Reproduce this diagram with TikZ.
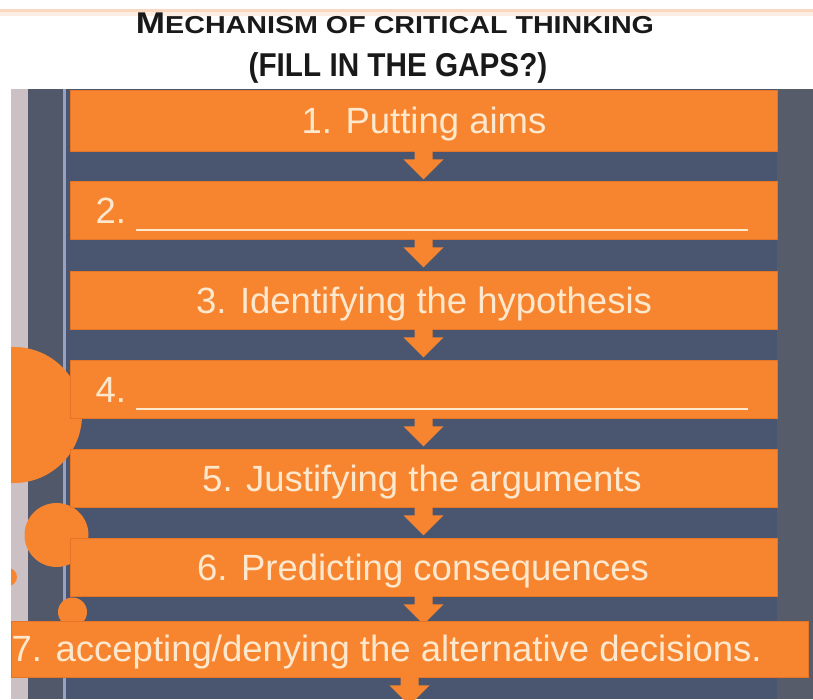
\documentclass[tikz,border=0pt]{standalone}
\usepackage{fontspec}
\setmainfont{Liberation Sans}
\usetikzlibrary{calc}
\definecolor{boxorange}{RGB}{247,133,47}
\definecolor{boxedge}{RGB}{228,116,38}
\definecolor{slate}{RGB}{80,88,106}
\definecolor{slatemid}{RGB}{74,86,112}
\definecolor{slateright}{RGB}{86,92,106}
\definecolor{pinkstrip}{RGB}{203,192,196}
\definecolor{lightline}{RGB}{152,162,192}
\definecolor{creamtext}{RGB}{253,232,206}
\definecolor{titlecol}{RGB}{25,25,25}
\definecolor{peach}{RGB}{248,200,165}
\begin{document}
\begin{tikzpicture}[x=1pt,y=-1pt,
  flowbox/.style={fill=boxorange,draw=boxedge,line width=0.8pt,inner sep=0pt},
  flowtext/.style={text=creamtext,inner sep=0pt,font=\fontsize{36.5}{40}\selectfont},
  titletext/.style={anchor=base,inner sep=0pt,text=titlecol},
  darrow/.pic={\fill[boxorange] (-9,-2) -- (9,-2) -- (9,8) -- (20,8) -- (0,28) -- (-20,8) -- (-9,8) -- cycle;}
]
\useasboundingbox (0,0) rectangle (813,699);
% backgrounds
\fill[white] (0,0) rectangle (813,699);
\fill[peach!70] (0,9) rectangle (813,12);
\fill[peach!30] (0,12) rectangle (813,16);
\fill[slate] (0,89) rectangle (813,699);
\fill[slatemid] (66,89) rectangle (777,699);
\fill[slateright] (777,89) rectangle (813,699);
\fill[pinkstrip] (11,89) rectangle (28,699);
\fill[lightline] (62.5,89) rectangle (66,699);
% circles
\fill[boxorange] (14,415) circle[radius=68];
\fill[boxorange] (56.5,535) circle[radius=32];
\fill[boxorange] (72.5,612) circle[radius=14.5];
\fill[boxorange] (8,577) circle[radius=9];
\fill[white] (0,89) rectangle (11,699);
% boxes
\node[flowbox,minimum width=707,minimum height=61] (b1) at (423.5,120.5) {};
\node[flowbox,minimum width=707,minimum height=58] (b2) at (423.5,210) {};
\node[flowbox,minimum width=707,minimum height=58] (b3) at (423.5,300) {};
\node[flowbox,minimum width=707,minimum height=58] (b4) at (423.5,389) {};
\node[flowbox,minimum width=707,minimum height=58] (b5) at (423.5,478) {};
\node[flowbox,minimum width=707,minimum height=58] (b6) at (423.5,567) {};
% arrows
\pic at (b1.south) {darrow};
\pic at (b2.south) {darrow};
\pic at (b3.south) {darrow};
\pic at (b4.south) {darrow};
\pic at (b5.south) {darrow};
\pic at (b6.south) {darrow};
\node[flowbox,minimum width=797,minimum height=56] (b7) at (409.5,649) {};
\pic at (b7.south) {darrow};
% texts
\node[flowtext,anchor=base] (t1) at (424,133.5) {1. Putting aims};
\node[flowtext,anchor=base west] (t2) at (95.5,223) {2.\ \rule[-8pt]{612pt}{2.5pt}};
\node[flowtext,anchor=base] (t3) at (424,313) {3. Identifying the hypothesis};
\node[flowtext,anchor=base west] (t4) at (95.5,402) {4.\ \rule[-8pt]{612pt}{2.5pt}};
\node[flowtext,anchor=base] (t5) at (422,491) {5. Justifying the arguments};
\node[flowtext,anchor=base] (t6) at (423,580) {6. Predicting consequences};
\node[flowtext,anchor=base west] (t7) at (11.5,661.5) {7. accepting/denying the alternative decisions.};
% title
\node[titletext] (title1) at (395,33.5)
  {\scalebox{1.17}[1]{\bfseries{\fontsize{30}{31}\selectfont M}{\fontsize{24.5}{26}\selectfont ECHANISM OF CRITICAL THINKING}}};
\node[titletext] (title2) at (398,76.5)
  {\scalebox{0.9}[1]{\bfseries\fontsize{33}{34}\selectfont (FILL IN THE GAPS?)}};
\end{tikzpicture}
\end{document}
